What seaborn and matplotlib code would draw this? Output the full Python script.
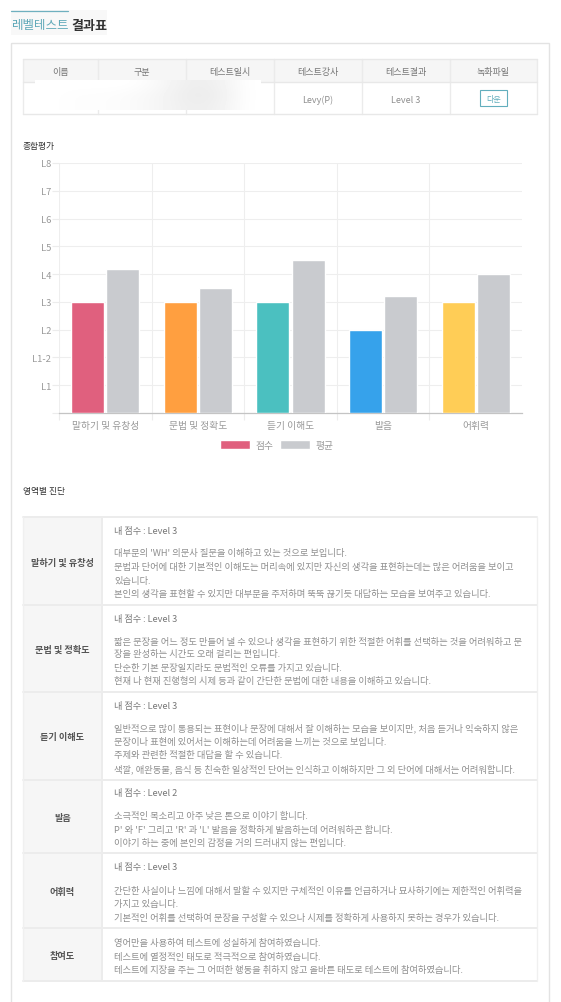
import numpy as np
import pandas as pd
import matplotlib
matplotlib.use("Agg")
import matplotlib.pyplot as plt
from matplotlib.patches import Patch, Rectangle
import seaborn as sns

# chart values (y positions are steps on the level scale, 0 = baseline)
categories = ["말하기 및 유창성", "문법 및 정확도", "듣기 이해도", "발음", "어휘력"]
score = [4, 4, 4, 3, 4]
average = [5.2, 4.5, 5.5, 4.2, 5.0]
score_colors = ["#e0607e", "#ff9f40", "#4bc0c0", "#36a2eb", "#ffcd56"]
average_color = "#c9cbcf"
level_ticks = [0, 1, 2, 3, 4, 5, 6, 7, 8, 9]
level_labels = ["", "L1", "L1-2", "L2", "L3", "L4", "L5", "L6", "L7", "L8"]

# page texts
header_labels = ["이름", "구분", "테스트일시", "테스트강사", "테스트결과", "녹화파일"]
header_values = ["", "", "", "Levy(P)", "Level 3", ""]
row_names = ["말하기 및 유창성", "문법 및 정확도", "듣기 이해도", "발음", "어휘력", "참여도"]
row_scores = ["내 점수 : Level 3", "내 점수 : Level 3", "내 점수 : Level 3",
              "내 점수 : Level 2", "내 점수 : Level 3", ""]
row_lines = [
    ["대부분의 'WH' 의문사 질문을 이해하고 있는 것으로 보입니다.",
     "문법과 단어에 대한 기본적인 이해도는 머리속에 있지만 자신의 생각을 표현하는데는 많은 어려움을 보이고",
     "있습니다.",
     "본인의 생각을 표현할 수 있지만 대부분을 주저하며 뚝뚝 끊기듯 대답하는 모습을 보여주고 있습니다."],
    ["짧은 문장을 어느 정도 만들어 낼 수 있으나 생각을 표현하기 위한 적절한 어휘를 선택하는 것을 어려워하고 문",
     "장을 완성하는 시간도 오래 걸리는 편입니다.",
     "단순한 기본 문장일지라도 문법적인 오류를 가지고 있습니다.",
     "현재 나 현재 진행형의 시제 등과 같이 간단한 문법에 대한 내용을 이해하고 있습니다."],
    ["일반적으로 많이 통용되는 표현이나 문장에 대해서 잘 이해하는 모습을 보이지만, 처음 듣거나 익숙하지 않은",
     "문장이나 표현에 있어서는 이해하는데 어려움을 느끼는 것으로 보입니다.",
     "주제와 관련한 적절한 대답을 할 수 있습니다.",
     "색깔, 애완동물, 음식 등 친숙한 일상적인 단어는 인식하고 이해하지만 그 외 단어에 대해서는 어려워합니다."],
    ["소극적인 목소리고 아주 낮은 톤으로 이야기 합니다.",
     "P' 와 'F' 그리고 'R' 과 'L' 발음을 정확하게 발음하는데 어려워하곤 합니다.",
     "이야기 하는 중에 본인의 감정을 거의 드러내지 않는 편입니다."],
    ["간단한 사실이나 느낌에 대해서 말할 수 있지만 구체적인 이유를 언급하거나 묘사하기에는 제한적인 어휘력을",
     "가지고 있습니다.",
     "기본적인 어휘를 선택하여 문장을 구성할 수 있으나 시제를 정확하게 사용하지 못하는 경우가 있습니다."],
    ["영어만을 사용하여 테스트에 성실하게 참여하였습니다.",
     "테스트에 열정적인 태도로 적극적으로 참여하였습니다.",
     "테스트에 지장을 주는 그 어떠한 행동을 취하지 않고 올바른 태도로 테스트에 참여하였습니다."],
]

W, H = 561, 1003
sns.set_theme(style="white")
plt.rcParams["font.family"] = ["Noto Sans CJK KR", "DejaVu Sans"]

fig = plt.figure(figsize=(W / 100, H / 100), dpi=100, facecolor="white")

# page layer in pixel coordinates
page = fig.add_axes([0, 0, 1, 1])
page.set_xlim(0, W)
page.set_ylim(H, 0)
page.axis("off")


def box(x0, y0, x1, y1, fc="none", ec="none", lw=1.0, z=1):
    page.add_patch(Rectangle((x0, y0), x1 - x0, y1 - y0, facecolor=fc, edgecolor=ec, linewidth=lw, zorder=z))


def label(x, y, s, size=6.7, color="#8a8a8a", ha="left", weight="normal"):
    page.text(x, y + 0.8, s, fontsize=size, color=color, ha=ha, va="center", fontweight=weight, zorder=5)


# title
box(11, 11, 107, 36, fc="#f8f8f8")
page.plot([11, 68], [11.5, 11.5], color="#6fb0bf", lw=0.9, zorder=3)
label(11, 25, "레벨테스트", size=9.0, color="#5fa9b9", weight="medium")
label(71, 25, "결과표", size=9.4, color="#333333", weight="bold")

# card
box(11.5, 44, 549, 1010, ec="#e3e3e3", lw=1.0)

# top table
col_edges = [23, 98, 186, 274, 362, 450, 537]
box(23, 60, 537, 83, fc="#f6f6f6")
for i, name in enumerate(header_labels):
    cx = (col_edges[i] + col_edges[i + 1]) / 2
    label(cx, 72, name, size=6.5, color="#777777", ha="center")
    if header_values[i]:
        label(cx, 100, header_values[i], size=6.5, color="#8f8f8f", ha="center")
for x in col_edges:
    page.plot([x, x], [60, 115], color="#ebebeb", lw=1.0, zorder=2)
for y in [60, 83, 115]:
    page.plot([23, 537], [y, y], color="#e8e8e8", lw=1.0, zorder=2)

# blurred out cells
blur = np.array([[1.0, 1.0, 1.0, 1.0, 0.97, 0.93, 0.94, 1.0],
                 [1.0, 0.99, 0.99, 0.98, 0.96, 0.92, 0.93, 1.0],
                 [1.0, 0.99, 0.99, 0.98, 0.96, 0.93, 0.94, 1.0]])
page.imshow(blur, cmap="gray", vmin=0, vmax=1, extent=(35, 261, 111, 81), aspect="auto",
            interpolation="bicubic", zorder=3)
page.set_xlim(0, W)
page.set_ylim(H, 0)

# download button
box(480.5, 91, 507, 107, fc="white", ec="#62aebd", lw=0.8, z=4)
label(493.7, 99, "다운", size=5.8, color="#62aebd", ha="center")

label(23, 146, "종합평가", size=6.3, color="#333333")
label(23, 491, "영역별 진단", size=6.3, color="#333333", weight="medium")

# diagnosis table
row_edges = [518, 606, 693, 781, 854, 929, 982]
first_y = [531, 619, 706, 793, 867, None]
body_y = [[553, 567, 581, 594], [642, 654, 668, 681], [728, 742, 755, 769],
          [816, 830, 843], [891, 904, 918], [943, 957, 970]]
box(23, 518, 102, 982, fc="#f6f6f6")
for y in row_edges:
    page.plot([23, 537], [y, y], color="#ececec", lw=1.4, zorder=2)
page.plot([102.5, 102.5], [518, 982], color="#ececec", lw=1.4, zorder=2)
page.plot([537, 537], [518, 982], color="#f0f0f0", lw=1.0, zorder=2)
page.plot([23, 23], [518, 982], color="#f0f0f0", lw=1.0, zorder=2)
for i, name in enumerate(row_names):
    label(62.5, (row_edges[i] + row_edges[i + 1]) / 2, name, size=6.6, color="#555555", ha="center", weight="bold")
    if row_scores[i]:
        label(114, first_y[i], row_scores[i], size=6.6, color="#777777")
    for y, line in zip(body_y[i], row_lines[i]):
        label(114, y, line, size=6.7, color="#8f8f8f")

# bar chart
ax = fig.add_axes([59 / W, 1 - 414 / H, (522 - 59) / W, 250 / H])
ax.patch.set_alpha(0)
df = pd.DataFrame({
    "category": categories * 2,
    "value": score + average,
    "series": ["점수"] * len(score) + ["평균"] * len(average),
})
sns.barplot(data=df, x="category", y="value", hue="series", order=categories, hue_order=["점수", "평균"],
            palette=[score_colors[0], average_color], width=0.76, gap=0.06, legend=False,
            saturation=1, ax=ax, zorder=3)
for bar, color in zip(ax.containers[0], score_colors):
    bar.set_facecolor(color)

ax.set_xlim(-0.5, 4.5)
ax.set_ylim(0, 9)
ax.set_xlabel("")
ax.set_ylabel("")
ax.set_yticks(level_ticks)
ax.set_yticklabels(level_labels, fontsize=6.8, color="#999999")
ax.tick_params(axis="y", left=True, length=5, width=0.8, color="#ececec", pad=0.5)
ax.tick_params(axis="x", bottom=False, length=0, labelsize=7, labelcolor="#999999", pad=5)
ax.set_xticks(np.arange(-0.5, 4.5, 1), minor=True)
ax.tick_params(axis="x", which="minor", bottom=True, length=5, width=0.8, color="#ececec")
ax.grid(True, axis="y", color="#eeeeee", lw=0.8, zorder=0)
ax.grid(True, axis="x", which="minor", color="#eeeeee", lw=0.8, zorder=0)
ax.grid(False, axis="x", which="major")
ax.set_axisbelow(True)
sns.despine(ax=ax, top=True, right=True, left=True, bottom=False)
ax.spines["bottom"].set_color("#c4c4c4")
ax.spines["bottom"].set_linewidth(0.9)

handles = [Patch(facecolor=score_colors[0], label="점수"), Patch(facecolor=average_color, label="평균")]
ax.legend(handles=handles, loc="center", bbox_to_anchor=(0.47, -0.128), ncol=2, frameon=False,
          fontsize=7, labelcolor="#999999", handlelength=3.1, handleheight=1.1,
          handletextpad=0.5, columnspacing=0.7, borderpad=0)

fig.savefig("out.png", dpi=100)
